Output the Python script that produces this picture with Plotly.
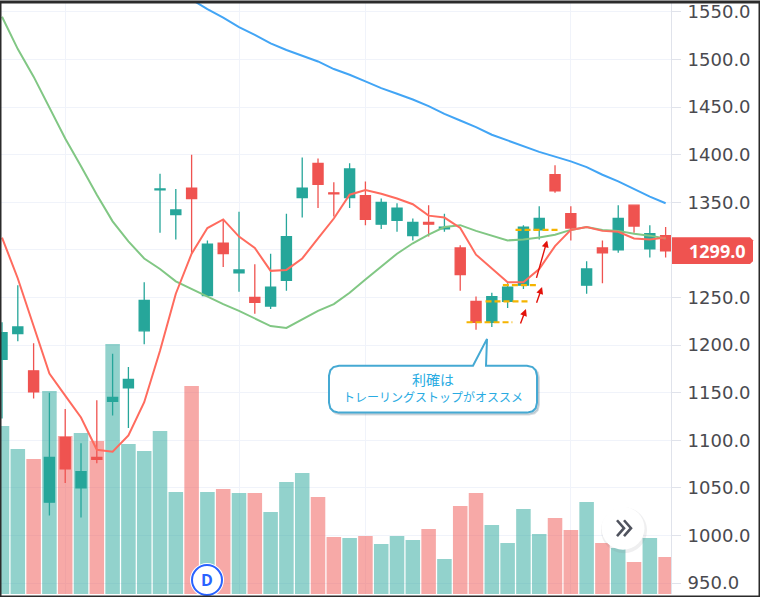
import plotly.graph_objects as go

WIDTH = 760
HEIGHT = 597
AXIS_X = 671  # px position of the price scale

TEAL = "#26a69a"
RED = "#ef5350"
TEAL_VOL = "rgba(38,166,154,0.5)"
RED_VOL = "rgba(239,83,80,0.5)"
GRID = "#f0f3fa"
AXIS_LINE = "#e0e3eb"
TEXT = "#4a4a4f"
CALLOUT = "#45a9d3"
CALLOUT_TEXT = "#29abe2"

days = list(range(43))

opens = [1185, 1212, 1173, 1035, 1103, 1050, 1082, 1141, 1155, 1215, 1363, 1337, 1365, 1252, 1307,
         1276, 1250, 1241, 1268, 1355, 1391, 1360, 1355, 1357, 1327, 1331, 1315, 1329, 1322, 1302,
         1246, 1224, 1246, 1263, 1321, 1379, 1338, 1263, 1302, 1300, 1347, 1301, 1315]
highs = [1224, 1263, 1202, 1150, 1133, 1097, 1142, 1191, 1177, 1266, 1380, 1364, 1400, 1310, 1332,
         1340, 1285, 1296, 1338, 1397, 1396, 1371, 1391, 1372, 1354, 1349, 1333, 1347, 1338, 1305,
         1251, 1255, 1265, 1326, 1346, 1389, 1346, 1288, 1310, 1347, 1347, 1326, 1324]
lows = [1123, 1204, 1144, 1021, 1055, 1019, 1076, 1126, 1113, 1201, 1318, 1311, 1296, 1251, 1282,
        1256, 1233, 1238, 1257, 1334, 1344, 1335, 1344, 1326, 1322, 1319, 1310, 1314, 1319, 1257,
        1216, 1219, 1239, 1259, 1311, 1360, 1310, 1254, 1265, 1297, 1318, 1292, 1292]
closes = [1213, 1219, 1151, 1082, 1070, 1067, 1080, 1145, 1164, 1247, 1364, 1342, 1354, 1306, 1296,
          1279, 1245, 1261, 1314, 1365, 1369, 1359, 1385, 1332, 1350, 1344, 1329, 1327, 1324, 1274,
          1224, 1251, 1261, 1324, 1333, 1362, 1323, 1280, 1297, 1333, 1325, 1317, 1299]
volumes = [168, 145, 135, 203, 158, 161, 153, 250, 150, 143, 163, 102, 208, 102, 105, 101, 101, 82,
           112, 121, 97, 57, 56, 58, 50, 58, 54, 65, 35, 88, 101, 69, 51, 85, 60, 76, 64, 92, 51, 46,
           32, 56, 37]

ma_fast = [1313, 1270, 1220, 1170, 1147, 1124, 1090, 1088, 1105, 1140, 1194, 1254, 1296, 1323, 1332,
           1314, 1302, 1278, 1279, 1291, 1312, 1333, 1358, 1363, 1359, 1354, 1348, 1336, 1334, 1323,
           1295, 1280, 1266, 1266, 1280, 1304, 1321, 1324, 1320, 1319, 1312, 1311, 1313]
ma_mid = [1545, 1511, 1482, 1450, 1417, 1388, 1358, 1330, 1309, 1291, 1280, 1267, 1259, 1251, 1243,
          1236, 1228, 1220, 1218, 1227, 1236, 1243, 1255, 1269, 1283, 1296, 1307, 1316, 1324, 1326,
          1320, 1315, 1310, 1311, 1313, 1316, 1321, 1324, 1321, 1320, 1317, 1315, 1312]
ma_slow = [None] * 12 + [1563, 1553, 1544, 1534, 1526, 1517, 1510, 1504, 1498, 1490, 1484, 1477, 1470,
                         1464, 1458, 1451, 1443, 1436, 1429, 1421, 1415, 1409, 1403, 1398, 1393, 1387,
                         1379, 1372, 1364, 1356, 1349]

stop_levels = [1224, 1246, 1263, 1321]
stop_starts = [29.4, 30.6, 31.7, 32.5]
stop_ends = [32.3, 33.35, 33.86, 35.25]

arrow_from_x = [32.78, 33.8, 33.8]
arrow_from_y = [1221, 1243, 1269]
arrow_to_x = [33.16, 34.18, 34.5]
arrow_to_y = [1238, 1261, 1310]

price_ticks = list(range(950, 1551, 50))
grid_days = [4, 15, 23, 36]
last_price = 1299.0


def px_x(x):
    return x / WIDTH


def px_y(y):
    return 1 - y / HEIGHT


def px_path(points, close=True):
    parts = []
    for i, (x, y) in enumerate(points):
        parts.append(f"{'M' if i == 0 else 'L'}{px_x(x):.5f},{px_y(y):.5f}")
    return " ".join(parts) + (" Z" if close else "")


def rounded_path(x0, y0, x1, y1, r, tail=None):
    # outline goes clockwise from the top left corner, tail sits on the top edge
    step = 0.45 * r
    pts = [(x0 + r, y0)]
    if tail:
        pts += tail
    pts += [(x1 - r, y0), (x1 - step, y0 + step * 0.3), (x1 - step * 0.3, y0 + step), (x1, y0 + r),
            (x1, y1 - r), (x1 - step * 0.3, y1 - step), (x1 - step, y1 - step * 0.3), (x1 - r, y1),
            (x0 + r, y1), (x0 + step, y1 - step * 0.3), (x0 + step * 0.3, y1 - step), (x0, y1 - r),
            (x0, y0 + r), (x0 + step * 0.3, y0 + step), (x0 + step, y0 + step * 0.3)]
    return px_path(pts)


def circle(cx, cy, r, fill, line="rgba(0,0,0,0)", width=0):
    return dict(type="circle", xref="paper", yref="paper", layer="above",
                x0=px_x(cx - r), x1=px_x(cx + r), y0=px_y(cy + r), y1=px_y(cy - r),
                fillcolor=fill, line=dict(color=line, width=width))


fig = go.Figure()

vol_colors = [TEAL_VOL if c >= o else RED_VOL for o, c in zip(opens, closes)]
fig.add_trace(go.Bar(x=days, y=volumes, marker=dict(color=vol_colors, line_width=0), width=0.92,
                     yaxis="y"))
fig.add_trace(go.Candlestick(
    x=days, open=opens, high=highs, low=lows, close=closes, yaxis="y2", whiskerwidth=0,
    increasing=dict(line=dict(color=TEAL, width=1.3), fillcolor=TEAL),
    decreasing=dict(line=dict(color=RED, width=1.3), fillcolor=RED),
))
fig.add_trace(go.Scatter(x=days, y=ma_slow, mode="lines", yaxis="y2",
                         line=dict(color="#42a5f5", width=2)))
fig.add_trace(go.Scatter(x=days, y=ma_mid, mode="lines", yaxis="y2",
                         line=dict(color="#81c784", width=2)))
fig.add_trace(go.Scatter(x=days, y=ma_fast, mode="lines", yaxis="y2",
                         line=dict(color="#ff6b5e", width=2)))
for level, start, end in zip(stop_levels, stop_starts, stop_ends):
    fig.add_trace(go.Scatter(x=[start, end], y=[level, level], mode="lines", yaxis="y2",
                             line=dict(color="#f5b400", width=2.2, dash="6px,3px")))

annotations = []
for x0, y0, x1, y1 in zip(arrow_from_x, arrow_from_y, arrow_to_x, arrow_to_y):
    annotations.append(dict(x=x1, y=y1, ax=x0, ay=y0, xref="x", yref="y2", axref="x", ayref="y2",
                            text="", showarrow=True, arrowcolor="#e3120b", arrowwidth=1.4,
                            arrowhead=2, arrowsize=1))
annotations += [
    dict(x=px_x(717), y=last_price, xref="paper", yref="y2", xanchor="center",
         text=f"<b>{last_price:.1f}</b>", showarrow=False,
         font=dict(family="Open Sans", size=18, color="white")),
    dict(x=px_x(433), y=px_y(378), xref="paper", yref="paper", xanchor="center", text="利確は",
         showarrow=False, font=dict(family="Noto Sans CJK JP", size=14, color=CALLOUT_TEXT)),
    dict(x=px_x(433), y=px_y(396), xref="paper", yref="paper", xanchor="center",
         text="トレーリングストップがオススメ", showarrow=False,
         font=dict(family="Noto Sans CJK JP", size=12, color=CALLOUT_TEXT)),
    dict(x=px_x(207), y=px_y(580), xref="paper", yref="paper", xanchor="center", yanchor="middle",
         text="<b>D</b>", showarrow=False, font=dict(family="Open Sans", size=16, color="#2962ff")),
]

tail = [(473, 365), (487, 338), (486, 365)]
shapes = [
    # price badge sits where the 1300.0 label would be
    dict(type="path", xref="paper", yref="paper", layer="above", fillcolor=RED, line_width=0,
         path=px_path([(AXIS_X + 1, 236), (750, 236), (753, 239), (753, 260), (750, 263),
                       (AXIS_X + 1, 263)])),
    # callout with its soft shadow
    dict(type="path", xref="paper", yref="paper", layer="above",
         path=rounded_path(331, 367, 539, 414, 10), fillcolor="rgba(90,120,140,0.25)",
         line=dict(color="rgba(90,120,140,0.25)", width=2)),
    dict(type="path", xref="paper", yref="paper", layer="above",
         path=rounded_path(329, 365, 537, 412, 10, tail=tail), fillcolor="white",
         line=dict(color=CALLOUT, width=2)),
    # scroll button
    circle(624, 530, 23, "rgba(120,123,134,0.12)"),
    circle(623, 528, 21.5, "white"),
    dict(type="path", xref="paper", yref="paper", layer="above",
         path=px_path([(617, 520), (624, 528), (617, 536)], close=False),
         line=dict(color="#50535e", width=2.6)),
    dict(type="path", xref="paper", yref="paper", layer="above",
         path=px_path([(624, 520), (631, 528), (624, 536)], close=False),
         line=dict(color="#50535e", width=2.6)),
    # dividend mark
    circle(207, 580, 17, "white"),
    circle(207, 580, 15, "white", line="#2962ff", width=2),
    # picture frame
    dict(type="rect", xref="paper", yref="paper", layer="above", x0=0, x1=1, y0=0, y1=1,
         line=dict(color="#2b2b2b", width=3)),
]

tick_text = ["" if t == 1300 else f"{t:.1f}" for t in price_ticks]

fig.update_layout(
    width=WIDTH,
    height=HEIGHT,
    autosize=False,
    margin=dict(l=0, r=0, t=0, b=0),
    paper_bgcolor="white",
    plot_bgcolor="white",
    showlegend=False,
    boxgap=0.2,
    boxgroupgap=0.2,
    font=dict(family="Open Sans", color=TEXT),
    xaxis=dict(range=[-0.127, 42.34], domain=[0, AXIS_X / WIDTH], tickmode="array", tickvals=grid_days,
               showticklabels=False, ticks="", showgrid=True, gridcolor=GRID, gridwidth=1,
               rangeslider=dict(visible=False), zeroline=False),
    yaxis=dict(range=[0, 591], domain=[3 / HEIGHT, 596 / HEIGHT], visible=False),
    yaxis2=dict(range=[938.5, 1559.4], overlaying="y", side="right", anchor="x", tickmode="array",
                tickvals=price_ticks, ticktext=tick_text, ticks="outside",
                ticklen=9, tickcolor=AXIS_LINE, showline=True, linecolor=AXIS_LINE, showgrid=True,
                gridcolor=GRID, zeroline=False, ticklabelstandoff=3, ticklabeloverflow="allow",
                tickfont=dict(family="DejaVu Sans", size=18, color=TEXT)),
    annotations=annotations,
    shapes=shapes,
)

fig.write_html("out.html", config={"displayModeBar": False},
               post_script="document.body.style.margin = '0';")
